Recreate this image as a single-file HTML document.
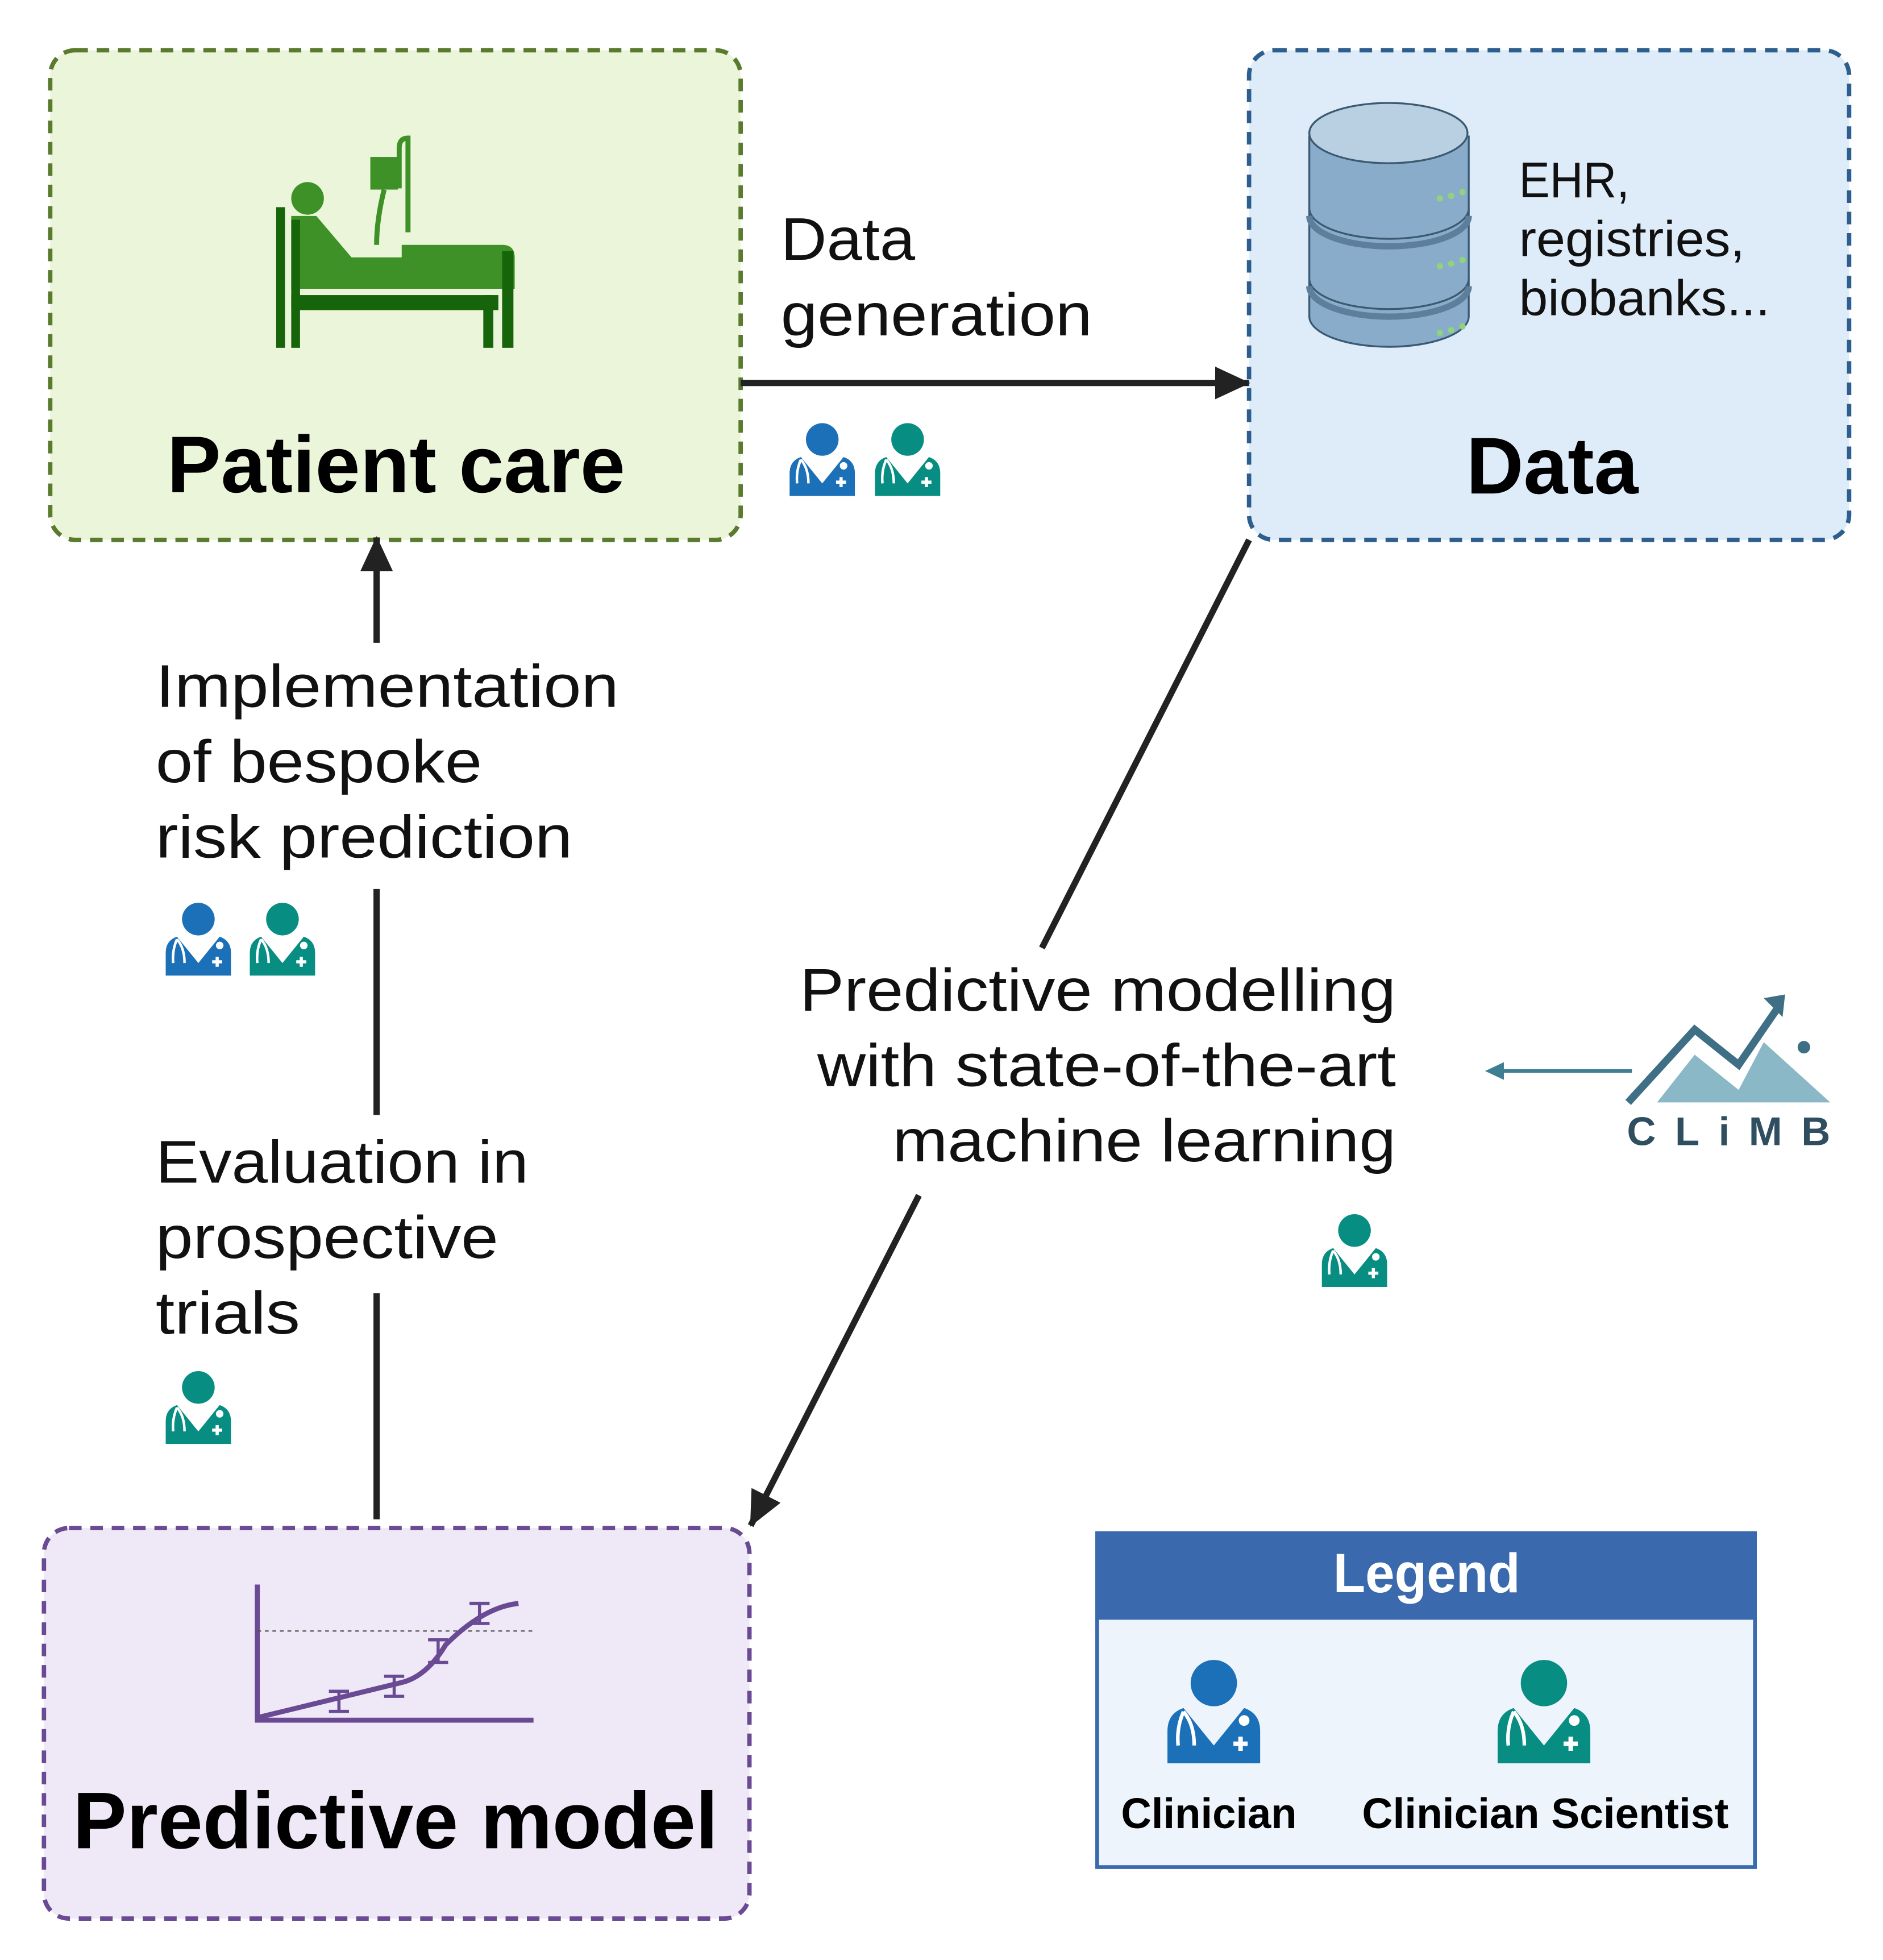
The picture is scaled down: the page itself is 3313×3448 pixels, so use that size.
<!DOCTYPE html>
<html><head><meta charset="utf-8"><style>html,body{margin:0;padding:0;background:#fff}svg{display:block}text{font-family:"Liberation Sans",Arial,sans-serif}</style></head>
<body>
<svg width="3313" height="3448" viewBox="0 0 1500 1561" preserveAspectRatio="none" xmlns="http://www.w3.org/2000/svg">
<defs>
<marker id="ah" markerWidth="28" markerHeight="26" refX="27" refY="13" orient="auto" markerUnits="userSpaceOnUse" viewBox="0 0 28 26"><path d="M0,0 L28,13 L0,26 Z" fill="#222"/></marker>
<g id="doc">
<circle cx="26" cy="13" r="13"/>
<path d="M0,58 V40 Q0,30 9,27 L26,48 L43,27 Q52,30 52,40 V58 Z"/>
<path d="M9,29 Q5,38 6,48 M9,29 Q15,36 15,48" stroke="#fff" stroke-width="2" fill="none"/>
<circle cx="43" cy="34" r="3" fill="#fff"/>
<path d="M37,47 h8 M41,43 v8" stroke="#fff" stroke-width="2.5"/>
</g>
</defs>
<!-- boxes -->
<rect x="40" y="40" width="550" height="390" rx="20" fill="#ebf5d9" stroke="#5a7a2e" stroke-width="3.5" stroke-dasharray="10,7"/>
<rect x="995" y="40" width="478" height="390" rx="20" fill="#deebf8" stroke="#2d5f8e" stroke-width="3.5" stroke-dasharray="10,7"/>
<rect x="35" y="1217" width="562" height="311" rx="20" fill="#efe8f7" stroke="#6a4a93" stroke-width="3.5" stroke-dasharray="10,7"/>
<!-- bed icon -->
<g fill="#3d9127">
<circle cx="245" cy="158" r="13"/>
<path d="M252,172 L280,205 L320,205 L320,195 L400,195 Q410,195 410,205 V230 H232 V172 Z M252,178 L278,213 H232" />
<rect x="295" y="125" width="22" height="26"/>
</g>
<path d="M306,151 Q300,175 300,195 M318,150 V118 Q318,110 325,110 V185" stroke="#3d9127" stroke-width="4" fill="none"/>
<g fill="#16650a">
<rect x="220" y="165" width="7" height="112"/><rect x="232" y="175" width="7" height="102"/>
<rect x="232" y="235" width="165" height="12"/>
<rect x="385" y="235" width="8" height="42"/><rect x="400" y="200" width="9" height="77"/>
</g>
<text x="133" y="392" font-size="64" font-weight="bold" textLength="365" lengthAdjust="spacingAndGlyphs">Patient care</text>
<!-- database -->
<g stroke="#3b5a72" stroke-width="1.5">
<path d="M1043,222 V252 A63,24 0 0 0 1170,252 V222" fill="#8aaccb"/>
<path d="M1043,166 V222 A63,24 0 0 0 1170,222 V166" fill="#8aaccb"/>
<path d="M1043,108 V166 A63,24 0 0 0 1170,166 V108" fill="#8aaccb"/>
<ellipse cx="1106" cy="106" rx="63" ry="24" fill="#b9d0e3"/>
</g>
<path d="M1043,172 A63,24 0 0 0 1170,172 M1043,228 A63,24 0 0 0 1170,228" stroke="#5d7f9b" stroke-width="5" fill="none"/>
<g fill="#8fd47a"><circle cx="1147" cy="158" r="2.5"/><circle cx="1156" cy="156" r="2.5"/><circle cx="1165" cy="153" r="2.5"/><circle cx="1147" cy="212" r="2.5"/><circle cx="1156" cy="210" r="2.5"/><circle cx="1165" cy="207" r="2.5"/><circle cx="1147" cy="265" r="2.5"/><circle cx="1156" cy="263" r="2.5"/><circle cx="1165" cy="260" r="2.5"/></g>
<g font-size="40" fill="#111">
<text x="1210" y="157" textLength="88" lengthAdjust="spacingAndGlyphs">EHR,</text>
<text x="1210" y="204" textLength="180" lengthAdjust="spacingAndGlyphs">registries,</text>
<text x="1210" y="251" textLength="200" lengthAdjust="spacingAndGlyphs">biobanks...</text>
</g>
<text x="1168" y="393" font-size="64" font-weight="bold" textLength="137" lengthAdjust="spacingAndGlyphs">Data</text>
<!-- chart -->
<path d="M205,1262 V1370 H425" stroke="#6a4a93" stroke-width="4" fill="none"/>
<path d="M205,1299 H425" stroke="#555" stroke-width="1" stroke-dasharray="3,3"/>
<path d="M205,1368 Q280,1350 320,1340 Q340,1335 355,1310 Q385,1280 413,1277" stroke="#6a4a93" stroke-width="4" fill="none"/>
<g stroke="#6a4a93" stroke-width="2.5" fill="none"><path d="M270,1347 v16 M262,1347 h16 M262,1363 h16"/><path d="M314,1335 v16 M306,1335 h16 M306,1351 h16"/><path d="M349,1306 v18 M341,1306 h16 M341,1324 h16"/><path d="M382,1277 v16 M374,1277 h16 M374,1293 h16"/></g>
<text x="58" y="1472" font-size="64" font-weight="bold" textLength="514" lengthAdjust="spacingAndGlyphs">Predictive model</text>
<!-- arrows -->
<line x1="590" y1="305" x2="995" y2="305" stroke="#222" stroke-width="5" marker-end="url(#ah)"/>
<line x1="300" y1="512" x2="300" y2="428" stroke="#222" stroke-width="5" marker-end="url(#ah)"/>
<line x1="300" y1="708" x2="300" y2="888" stroke="#222" stroke-width="5"/>
<line x1="300" y1="1030" x2="300" y2="1210" stroke="#222" stroke-width="5"/>
<line x1="995" y1="430" x2="830" y2="755" stroke="#222" stroke-width="5"/>
<line x1="732" y1="952" x2="598" y2="1215" stroke="#222" stroke-width="5" marker-end="url(#ah)"/>
<!-- labels -->
<g font-size="48" fill="#111">
<text x="622" y="207" textLength="107" lengthAdjust="spacingAndGlyphs">Data</text>
<text x="622" y="267" textLength="248" lengthAdjust="spacingAndGlyphs">generation</text>
<text x="124" y="563" textLength="369" lengthAdjust="spacingAndGlyphs">Implementation</text>
<text x="124" y="623" textLength="260" lengthAdjust="spacingAndGlyphs">of bespoke</text>
<text x="124" y="683" textLength="332" lengthAdjust="spacingAndGlyphs">risk prediction</text>
<text x="124" y="942" textLength="297" lengthAdjust="spacingAndGlyphs">Evaluation in</text>
<text x="124" y="1002" textLength="273" lengthAdjust="spacingAndGlyphs">prospective</text>
<text x="124" y="1062" textLength="115" lengthAdjust="spacingAndGlyphs">trials</text>
<text x="637" y="805" textLength="475" lengthAdjust="spacingAndGlyphs">Predictive modelling</text>
<text x="651" y="865" textLength="461" lengthAdjust="spacingAndGlyphs">with state-of-the-art</text>
<text x="711" y="925" textLength="401" lengthAdjust="spacingAndGlyphs">machine learning</text>
</g>
<!-- doctor icons -->
<use href="#doc" x="629" y="337" fill="#1b70b8"/>
<use href="#doc" x="697" y="337" fill="#088d82"/>
<use href="#doc" x="132" y="719" fill="#1b70b8"/>
<use href="#doc" x="199" y="719" fill="#088d82"/>
<use href="#doc" x="132" y="1092" fill="#088d82"/>
<use href="#doc" x="1053" y="967" fill="#088d82"/>
<!-- CLiMB logo -->
<line x1="1300" y1="853" x2="1188" y2="853" stroke="#3f7f93" stroke-width="3"/>
<path d="M1183,853 L1198,846 L1198,860 Z" fill="#3f7f93"/>
<path d="M1320,878 L1350,840 L1385,868 L1405,830 L1458,878 Z" fill="#8ab8c7"/>
<path d="M1297,878 L1350,820 L1385,848 L1418,800" stroke="#3f6f85" stroke-width="6" fill="none"/>
<path d="M1405,795 L1422,792 L1420,810 Z" fill="#3f6f85"/>
<circle cx="1437" cy="834" r="5" fill="#3f6f85"/>
<text x="1296" y="912" font-size="32" font-weight="bold" fill="#2f4f60" textLength="162" lengthAdjust="spacing">CLiMB</text>
<!-- legend -->
<rect x="874" y="1221" width="524" height="266" fill="#edf4fb" stroke="#3b69ad" stroke-width="3"/>
<rect x="874" y="1221" width="524" height="69" fill="#3b69ad"/>
<text x="1062" y="1268" font-size="44" font-weight="bold" fill="#fff" textLength="149" lengthAdjust="spacingAndGlyphs">Legend</text>
<use href="#doc" x="0" y="0" fill="#1b70b8" transform="translate(930,1322) scale(1.42)"/>
<use href="#doc" x="0" y="0" fill="#088d82" transform="translate(1193,1322) scale(1.42)"/>
<text x="893" y="1456" font-size="34" font-weight="bold" textLength="140" lengthAdjust="spacingAndGlyphs">Clinician</text>
<text x="1085" y="1456" font-size="34" font-weight="bold" textLength="292" lengthAdjust="spacingAndGlyphs">Clinician Scientist</text>
</svg>
</body></html>
